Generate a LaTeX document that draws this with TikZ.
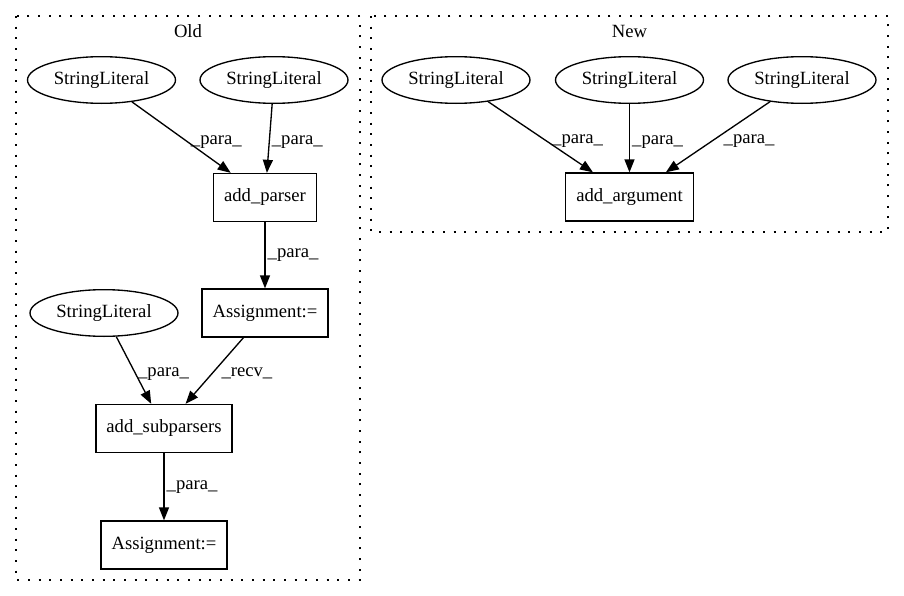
\documentclass[tikz,border=0pt]{standalone}
\usepackage{fontspec}
\setmainfont{Liberation Serif}
\usetikzlibrary{shapes.geometric,arrows.meta}

\begin{document}
\begin{tikzpicture}[x=0.75pt,y=-0.75pt,
    font=\fontsize{14}{16}\selectfont,
    lit/.style={draw,ellipse,line width=1pt,minimum width=111pt,minimum height=35pt,inner sep=0pt},
    op/.style={draw,rectangle,line width=1pt,minimum height=36pt,inner xsep=7.9pt},
    flow/.style={line width=1pt,-{Triangle[length=9.75pt,width=7.5pt]}},
    lbl/.style={right,inner sep=1.5pt,pos=#1},
    lbl/.default=0.5,
    clust/.style={line width=1pt,dash pattern=on 1.5pt off 6.5pt}]
    \useasboundingbox (0,0) rectangle (904,596);

    % clusters
    \draw[clust] (16,16) rectangle (360,580);
    \node (old) at (188,31) {Old};
    \draw[clust] (371,16) rectangle (888,232);
    \node (new) at (629.5,31) {New};

    % old
    \node[lit] (s1) at (101.5,80) {StringLiteral};
    \node[lit] (s2) at (274,80) {StringLiteral};
    \node[op] (ap) at (265,197.5) {add\_parser};
    \node[op] (a1) at (265,313) {Assignment:=};
    \node[lit] (s3) at (104,313) {StringLiteral};
    \node[op] (asub) at (164,428.5) {add\_subparsers};
    \node[op] (a2) at (164,545) {Assignment:=};

    \draw[flow] (s1) -- (ap) node[lbl=0.57] {\_para\_};
    \draw[flow] (s2) -- (ap) node[lbl=0.56] {\_para\_};
    \draw[flow] (ap) -- (a1) node[lbl=0.49] {\_para\_};
    \draw[flow] (s3) -- (asub) node[lbl=0.55] {\_para\_};
    \draw[flow] (a1) -- (asub) node[lbl=0.54,xshift=5pt] {\_recv\_};
    \draw[flow] (asub) -- (a2) node[lbl=0.51] {\_para\_};

    % new
    \node[op] (aa) at (629.5,197) {add\_argument};
    \foreach \i/\x/\s in {1/456/2,2/629.5/0,3/802/7} {
        \node[lit] (n\i) at (\x,80) {StringLiteral};
        \draw[flow] (n\i) -- (aa) node[lbl=0.56,xshift=\s pt] {\_para\_};
    }
\end{tikzpicture}
\end{document}
